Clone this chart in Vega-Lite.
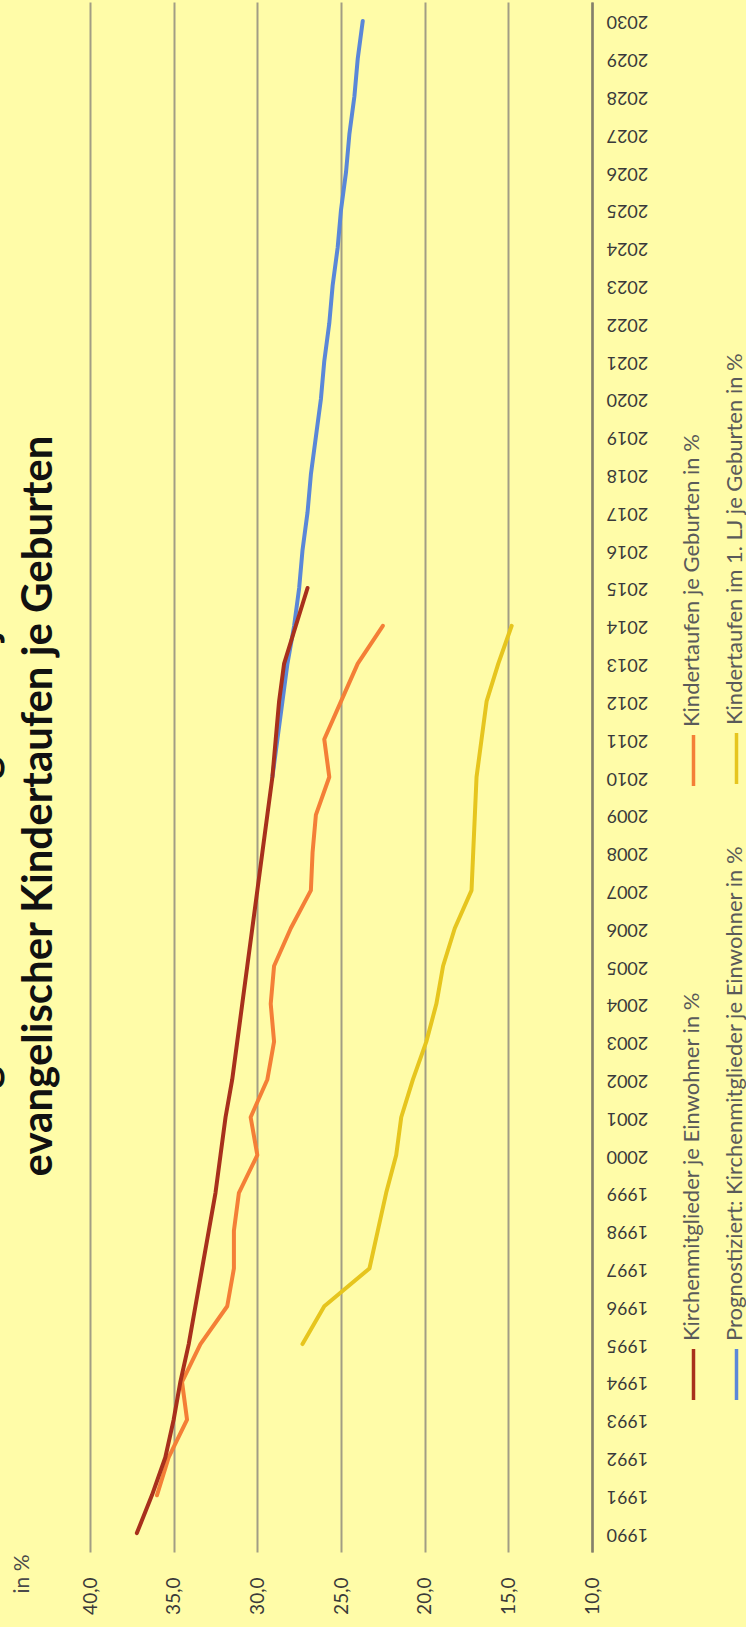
{
  "$schema": "https://vega.github.io/schema/vega-lite/v6.json",
  "autosize": {"type": "none"},
  "width": 502,
  "height": 1550,
  "padding": {"left": 90, "top": 2, "right": 154, "bottom": 75},
  "background": "#FFFCA8",
  "config": {
    "view": {"stroke": null},
    "font": "Lato",
    "legend": {"orient": "none", "direction": "vertical", "title": null, "padding": 0, "symbolType": "stroke", "symbolSize": 2601, "symbolStrokeWidth": 3.5, "labelFont": "Lato", "labelFontSize": 22, "labelColor": "#5a5a5a", "labelLimit": 0}
  },
  "title": {
    "text": ["Entwicklung der Kirchenmitglieder je Einwohner und", "evangelischer Kindertaufen je Geburten"],
    "orient": "left",
    "anchor": "middle",
    "font": "Lato",
    "fontSize": 42,
    "fontWeight": "bold",
    "color": "#111111",
    "offset": -50,
    "lineHeight": 55,
    "dx": -29
  },
  "datasets": {
    "d": [
      {"series": "Kirchenmitglieder je Einwohner in %", "year": 1990, "value": 37.2},
      {"series": "Kirchenmitglieder je Einwohner in %", "year": 1991, "value": 36.3},
      {"series": "Kirchenmitglieder je Einwohner in %", "year": 1992, "value": 35.5},
      {"series": "Kirchenmitglieder je Einwohner in %", "year": 1993, "value": 35.0},
      {"series": "Kirchenmitglieder je Einwohner in %", "year": 1994, "value": 34.6},
      {"series": "Kirchenmitglieder je Einwohner in %", "year": 1995, "value": 34.1},
      {"series": "Kirchenmitglieder je Einwohner in %", "year": 1996, "value": 33.7},
      {"series": "Kirchenmitglieder je Einwohner in %", "year": 1997, "value": 33.3},
      {"series": "Kirchenmitglieder je Einwohner in %", "year": 1998, "value": 32.9},
      {"series": "Kirchenmitglieder je Einwohner in %", "year": 1999, "value": 32.5},
      {"series": "Kirchenmitglieder je Einwohner in %", "year": 2000, "value": 32.2},
      {"series": "Kirchenmitglieder je Einwohner in %", "year": 2001, "value": 31.9},
      {"series": "Kirchenmitglieder je Einwohner in %", "year": 2002, "value": 31.5},
      {"series": "Kirchenmitglieder je Einwohner in %", "year": 2003, "value": 31.2},
      {"series": "Kirchenmitglieder je Einwohner in %", "year": 2004, "value": 30.9},
      {"series": "Kirchenmitglieder je Einwohner in %", "year": 2005, "value": 30.6},
      {"series": "Kirchenmitglieder je Einwohner in %", "year": 2006, "value": 30.3},
      {"series": "Kirchenmitglieder je Einwohner in %", "year": 2007, "value": 30.0},
      {"series": "Kirchenmitglieder je Einwohner in %", "year": 2008, "value": 29.7},
      {"series": "Kirchenmitglieder je Einwohner in %", "year": 2009, "value": 29.4},
      {"series": "Kirchenmitglieder je Einwohner in %", "year": 2010, "value": 29.1},
      {"series": "Kirchenmitglieder je Einwohner in %", "year": 2011, "value": 28.9},
      {"series": "Kirchenmitglieder je Einwohner in %", "year": 2012, "value": 28.7},
      {"series": "Kirchenmitglieder je Einwohner in %", "year": 2013, "value": 28.4},
      {"series": "Kirchenmitglieder je Einwohner in %", "year": 2014, "value": 27.7},
      {"series": "Kirchenmitglieder je Einwohner in %", "year": 2015, "value": 27.0},
      {"series": "Kindertaufen je Geburten in %", "year": 1991, "value": 36.0},
      {"series": "Kindertaufen je Geburten in %", "year": 1992, "value": 35.3},
      {"series": "Kindertaufen je Geburten in %", "year": 1993, "value": 34.2},
      {"series": "Kindertaufen je Geburten in %", "year": 1994, "value": 34.5},
      {"series": "Kindertaufen je Geburten in %", "year": 1995, "value": 33.4},
      {"series": "Kindertaufen je Geburten in %", "year": 1996, "value": 31.8},
      {"series": "Kindertaufen je Geburten in %", "year": 1997, "value": 31.4},
      {"series": "Kindertaufen je Geburten in %", "year": 1998, "value": 31.4},
      {"series": "Kindertaufen je Geburten in %", "year": 1999, "value": 31.1},
      {"series": "Kindertaufen je Geburten in %", "year": 2000, "value": 30.0},
      {"series": "Kindertaufen je Geburten in %", "year": 2001, "value": 30.4},
      {"series": "Kindertaufen je Geburten in %", "year": 2002, "value": 29.4},
      {"series": "Kindertaufen je Geburten in %", "year": 2003, "value": 29.0},
      {"series": "Kindertaufen je Geburten in %", "year": 2004, "value": 29.2},
      {"series": "Kindertaufen je Geburten in %", "year": 2005, "value": 29.0},
      {"series": "Kindertaufen je Geburten in %", "year": 2006, "value": 28.0},
      {"series": "Kindertaufen je Geburten in %", "year": 2007, "value": 26.8},
      {"series": "Kindertaufen je Geburten in %", "year": 2008, "value": 26.7},
      {"series": "Kindertaufen je Geburten in %", "year": 2009, "value": 26.5},
      {"series": "Kindertaufen je Geburten in %", "year": 2010, "value": 25.7},
      {"series": "Kindertaufen je Geburten in %", "year": 2011, "value": 26.0},
      {"series": "Kindertaufen je Geburten in %", "year": 2012, "value": 25.0},
      {"series": "Kindertaufen je Geburten in %", "year": 2013, "value": 24.0},
      {"series": "Kindertaufen je Geburten in %", "year": 2014, "value": 22.5},
      {"series": "Prognostiziert: Kirchenmitglieder je Einwohner in %", "year": 2010, "value": 29.1},
      {"series": "Prognostiziert: Kirchenmitglieder je Einwohner in %", "year": 2011, "value": 28.8},
      {"series": "Prognostiziert: Kirchenmitglieder je Einwohner in %", "year": 2012, "value": 28.5},
      {"series": "Prognostiziert: Kirchenmitglieder je Einwohner in %", "year": 2013, "value": 28.2},
      {"series": "Prognostiziert: Kirchenmitglieder je Einwohner in %", "year": 2014, "value": 27.8},
      {"series": "Prognostiziert: Kirchenmitglieder je Einwohner in %", "year": 2015, "value": 27.5},
      {"series": "Prognostiziert: Kirchenmitglieder je Einwohner in %", "year": 2016, "value": 27.3},
      {"series": "Prognostiziert: Kirchenmitglieder je Einwohner in %", "year": 2017, "value": 27.0},
      {"series": "Prognostiziert: Kirchenmitglieder je Einwohner in %", "year": 2018, "value": 26.8},
      {"series": "Prognostiziert: Kirchenmitglieder je Einwohner in %", "year": 2019, "value": 26.5},
      {"series": "Prognostiziert: Kirchenmitglieder je Einwohner in %", "year": 2020, "value": 26.2},
      {"series": "Prognostiziert: Kirchenmitglieder je Einwohner in %", "year": 2021, "value": 26.0},
      {"series": "Prognostiziert: Kirchenmitglieder je Einwohner in %", "year": 2022, "value": 25.7},
      {"series": "Prognostiziert: Kirchenmitglieder je Einwohner in %", "year": 2023, "value": 25.5},
      {"series": "Prognostiziert: Kirchenmitglieder je Einwohner in %", "year": 2024, "value": 25.2},
      {"series": "Prognostiziert: Kirchenmitglieder je Einwohner in %", "year": 2025, "value": 25.0},
      {"series": "Prognostiziert: Kirchenmitglieder je Einwohner in %", "year": 2026, "value": 24.7},
      {"series": "Prognostiziert: Kirchenmitglieder je Einwohner in %", "year": 2027, "value": 24.5},
      {"series": "Prognostiziert: Kirchenmitglieder je Einwohner in %", "year": 2028, "value": 24.2},
      {"series": "Prognostiziert: Kirchenmitglieder je Einwohner in %", "year": 2029, "value": 24.0},
      {"series": "Prognostiziert: Kirchenmitglieder je Einwohner in %", "year": 2030, "value": 23.7},
      {"series": "Kindertaufen im 1. LJ je Geburten in %", "year": 1995, "value": 27.3},
      {"series": "Kindertaufen im 1. LJ je Geburten in %", "year": 1996, "value": 26.0},
      {"series": "Kindertaufen im 1. LJ je Geburten in %", "year": 1997, "value": 23.3},
      {"series": "Kindertaufen im 1. LJ je Geburten in %", "year": 1998, "value": 22.8},
      {"series": "Kindertaufen im 1. LJ je Geburten in %", "year": 1999, "value": 22.3},
      {"series": "Kindertaufen im 1. LJ je Geburten in %", "year": 2000, "value": 21.7},
      {"series": "Kindertaufen im 1. LJ je Geburten in %", "year": 2001, "value": 21.4},
      {"series": "Kindertaufen im 1. LJ je Geburten in %", "year": 2002, "value": 20.7},
      {"series": "Kindertaufen im 1. LJ je Geburten in %", "year": 2003, "value": 19.9},
      {"series": "Kindertaufen im 1. LJ je Geburten in %", "year": 2004, "value": 19.3},
      {"series": "Kindertaufen im 1. LJ je Geburten in %", "year": 2005, "value": 18.9},
      {"series": "Kindertaufen im 1. LJ je Geburten in %", "year": 2006, "value": 18.2},
      {"series": "Kindertaufen im 1. LJ je Geburten in %", "year": 2007, "value": 17.2},
      {"series": "Kindertaufen im 1. LJ je Geburten in %", "year": 2008, "value": 17.1},
      {"series": "Kindertaufen im 1. LJ je Geburten in %", "year": 2009, "value": 17.0},
      {"series": "Kindertaufen im 1. LJ je Geburten in %", "year": 2010, "value": 16.9},
      {"series": "Kindertaufen im 1. LJ je Geburten in %", "year": 2011, "value": 16.6},
      {"series": "Kindertaufen im 1. LJ je Geburten in %", "year": 2012, "value": 16.3},
      {"series": "Kindertaufen im 1. LJ je Geburten in %", "year": 2013, "value": 15.6},
      {"series": "Kindertaufen im 1. LJ je Geburten in %", "year": 2014, "value": 14.8}
    ]
  },
  "data": {"name": "d"},
  "encoding": {
    "y": {
      "field": "year",
      "type": "quantitative",
      "scale": {"domain": [1989.5, 2030.5], "nice": false, "zero": false},
      "axis": {
        "orient": "right",
        "values": [1990,1991,1992,1993,1994,1995,1996,1997,1998,1999,2000,2001,2002,2003,2004,2005,2006,2007,2008,2009,2010,2011,2012,2013,2014,2015,2016,2017,2018,2019,2020,2021,2022,2023,2024,2025,2026,2027,2028,2029,2030],
        "format": "d",
        "labelAngle": 180,
        "labelAlign": "right",
        "labelBaseline": "middle",
        "labelPadding": 14,
        "labelFont": "Lato",
        "labelFontSize": 18,
        "labelColor": "#3a3a3a",
        "labelOverlap": false,
        "labelFlush": false,
        "ticks": false,
        "grid": false,
        "domain": true,
        "domainColor": "#85806a",
        "domainWidth": 2.5,
        "title": null
      }
    },
    "x": {
      "field": "value",
      "type": "quantitative",
      "scale": {"domain": [10, 40], "reverse": true, "nice": false, "zero": false},
      "axis": {
        "orient": "bottom",
        "values": [10, 15, 20, 25, 30, 35, 40],
        "labelExpr": "replace(format(datum.value, '.1f'), '.', ',')",
        "labelAngle": 270,
        "labelAlign": "right",
        "labelBaseline": "middle",
        "labelPadding": 25,
        "labelFont": "Lato",
        "labelFontSize": 19,
        "labelColor": "#3a3a3a",
        "labelOverlap": false,
        "labelFlush": false,
        "ticks": false,
        "domain": false,
        "grid": true,
        "gridColor": "#a29d84",
        "gridWidth": 2,
        "title": "in %",
        "titleAngle": 270,
        "titleX": -68,
        "titleY": 2,
        "titleAlign": "right",
        "titleBaseline": "middle",
        "titleFont": "Lato",
        "titleFontSize": 21,
        "titleFontWeight": "normal",
        "titleColor": "#4a4a4a"
      }
    },
    "order": {"field": "year", "type": "quantitative"}
  },
  "layer": [
    {
      "transform": [{"filter": {"field": "series", "equal": "Kindertaufen je Geburten in %"}}],
      "mark": {"type": "line", "strokeWidth": 4, "strokeCap": "round", "strokeJoin": "round"},
      "encoding": {
        "color": {
          "field": "series", "type": "nominal",
          "scale": {"domain": ["Kindertaufen je Geburten in %"], "range": ["#f47f37"]},
          "legend": {
            "legendX": 576, "legendY": 731,
            "encoding": {
              "symbols": {"angle": {"value": -90}},
              "labels": {"angle": {"value": -90}, "x": {"value": 25.5}, "y": {"value": -6}, "align": {"value": "left"}, "baseline": {"value": "middle"}}
            }
          }
        }
      }
    },
    {
      "transform": [{"filter": {"field": "series", "equal": "Kindertaufen im 1. LJ je Geburten in %"}}],
      "mark": {"type": "line", "strokeWidth": 4, "strokeCap": "round", "strokeJoin": "round"},
      "encoding": {
        "color": {
          "field": "series", "type": "nominal",
          "scale": {"domain": ["Kindertaufen im 1. LJ je Geburten in %"], "range": ["#e6c51e"]},
          "legend": {
            "legendX": 619, "legendY": 729,
            "encoding": {
              "symbols": {"angle": {"value": -90}},
              "labels": {"angle": {"value": -90}, "x": {"value": 25.5}, "y": {"value": -6}, "align": {"value": "left"}, "baseline": {"value": "middle"}}
            }
          }
        }
      }
    },
    {
      "transform": [{"filter": {"field": "series", "equal": "Prognostiziert: Kirchenmitglieder je Einwohner in %"}}],
      "mark": {"type": "line", "strokeWidth": 4, "strokeCap": "round", "strokeJoin": "round"},
      "encoding": {
        "color": {
          "field": "series", "type": "nominal",
          "scale": {"domain": ["Prognostiziert: Kirchenmitglieder je Einwohner in %"], "range": ["#5a87d8"]},
          "legend": {
            "legendX": 619, "legendY": 1345,
            "encoding": {
              "symbols": {"angle": {"value": -90}},
              "labels": {"angle": {"value": -90}, "x": {"value": 25.5}, "y": {"value": -6}, "align": {"value": "left"}, "baseline": {"value": "middle"}}
            }
          }
        }
      }
    },
    {
      "transform": [{"filter": {"field": "series", "equal": "Kirchenmitglieder je Einwohner in %"}}],
      "mark": {"type": "line", "strokeWidth": 4, "strokeCap": "round", "strokeJoin": "round"},
      "encoding": {
        "color": {
          "field": "series", "type": "nominal",
          "scale": {"domain": ["Kirchenmitglieder je Einwohner in %"], "range": ["#a8301c"]},
          "legend": {
            "legendX": 576, "legendY": 1345,
            "encoding": {
              "symbols": {"angle": {"value": -90}},
              "labels": {"angle": {"value": -90}, "x": {"value": 25.5}, "y": {"value": -6}, "align": {"value": "left"}, "baseline": {"value": "middle"}}
            }
          }
        }
      }
    }
  ],
  "resolve": {"scale": {"color": "independent"}}
}
